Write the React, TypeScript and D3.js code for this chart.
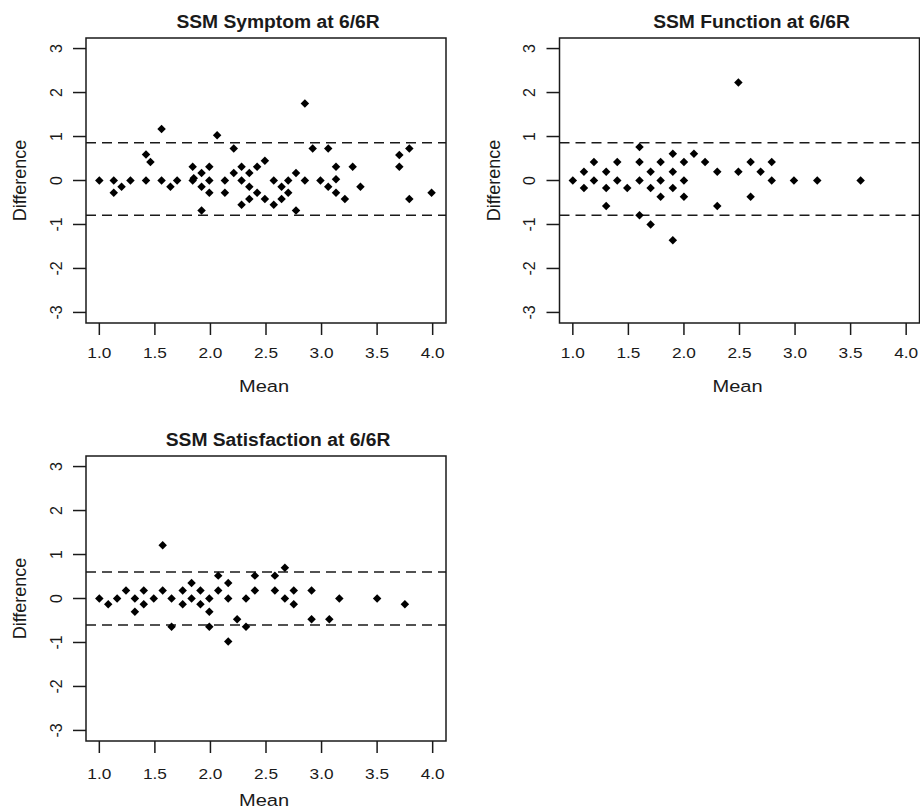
import React from "react";
import * as d3 from "d3";

// Bland-Altman style panels: mean vs difference
const symptomMean = [1.0, 1.13, 1.13, 1.2, 1.28, 1.42, 1.46, 1.42, 1.56, 1.56, 1.64, 1.7, 1.84, 1.84, 1.85, 1.92, 1.92, 1.92, 1.99, 1.99, 1.99, 2.06, 2.13, 2.13, 2.21, 2.21, 2.28, 2.28, 2.28, 2.35, 2.35, 2.35, 2.42, 2.42, 2.49, 2.49, 2.57, 2.57, 2.64, 2.64, 2.7, 2.7, 2.77, 2.77, 2.85, 2.85, 2.92, 2.99, 3.06, 3.06, 3.13, 3.13, 3.13, 3.21, 3.28, 3.35, 3.7, 3.7, 3.79, 3.79, 3.99];
const symptomDiff = [0, 0, -0.28, -0.14, 0, 0.59, 0.42, 0, 1.17, 0, -0.14, 0, 0.31, 0, 0.05, 0.17, -0.14, -0.68, 0.31, 0, -0.28, 1.03, 0, -0.28, 0.73, 0.17, 0.31, 0, -0.55, 0.17, -0.14, -0.42, 0.31, -0.28, 0.45, -0.42, 0, -0.55, -0.14, -0.42, 0, -0.28, 0.17, -0.68, 1.75, 0, 0.73, 0, 0.73, -0.14, 0.31, 0.03, -0.28, -0.42, 0.31, -0.14, 0.58, 0.31, 0.73, -0.42, -0.28];

const functionMean = [1.0, 1.1, 1.1, 1.19, 1.19, 1.3, 1.3, 1.3, 1.4, 1.4, 1.49, 1.6, 1.6, 1.6, 1.6, 1.7, 1.7, 1.7, 1.79, 1.79, 1.79, 1.9, 1.9, 1.9, 1.9, 2.0, 2.0, 2.0, 2.09, 2.19, 2.3, 2.3, 2.49, 2.49, 2.6, 2.6, 2.69, 2.79, 2.79, 2.99, 3.2, 3.59];
const functionDiff = [0, 0.2, -0.17, 0.42, 0, 0.2, -0.17, -0.58, 0.42, 0, -0.17, 0.76, 0.42, 0, -0.79, 0.2, -0.17, -1.0, 0.42, 0, -0.37, 0.61, 0.2, -0.17, -1.36, 0.42, 0, -0.37, 0.61, 0.42, 0.2, -0.58, 2.23, 0.2, 0.42, -0.37, 0.2, 0.42, 0, 0, 0, 0];

const satisfactionMean = [1.0, 1.08, 1.16, 1.24, 1.32, 1.32, 1.4, 1.4, 1.49, 1.57, 1.57, 1.65, 1.65, 1.75, 1.75, 1.83, 1.83, 1.91, 1.91, 1.99, 1.99, 1.99, 2.07, 2.07, 2.16, 2.16, 2.16, 2.24, 2.32, 2.32, 2.4, 2.4, 2.58, 2.58, 2.67, 2.67, 2.75, 2.75, 2.91, 2.91, 3.07, 3.16, 3.5, 3.75];
const satisfactionDiff = [0, -0.13, 0, 0.18, 0, -0.3, 0.18, -0.13, 0, 1.21, 0.18, 0, -0.64, 0.18, -0.13, 0.35, 0, 0.18, -0.13, 0, -0.3, -0.64, 0.52, 0.18, 0.35, 0, -0.98, -0.47, 0, -0.64, 0.52, 0.18, 0.52, 0.18, 0.7, 0, 0.18, -0.13, 0.18, -0.47, -0.47, 0, 0, -0.13];

const symptomLimits = [-0.79, 0.86];
const functionLimits = [-0.79, 0.86];
const satisfactionLimits = [-0.6, 0.6];

const xTicks = [1.0, 1.5, 2.0, 2.5, 3.0, 3.5, 4.0];
const yTicks = [-3, -2, -1, 0, 1, 2, 3];

const titles = ["SSM Symptom at 6/6R", "SSM Function at 6/6R", "SSM Satisfaction at 6/6R"];

const font = "'Liberation Sans', Arial, sans-serif";
const ink = "#1a1a1a";

const diamond = d3.symbol(d3.symbolSquare, 36)();

const Panel = ({ left, top, title, means, diffs, limits, tickGap, labelGap }) => {
  const width = 360;
  const height = 285;

  // R style 4% axis extension
  const xScale = d3.scaleLinear().domain([0.88, 4.12]).range([0, width]);
  const yScale = d3.scaleLinear().domain([-3.24, 3.24]).range([height, 0]);

  return (
    <g transform={`translate(${left},${top})`}>
      <text
        transform={`translate(${width / 2 + 12},${-10}) scale(1.07,1)`}
        textAnchor="middle"
        fontFamily={font}
        fontWeight="bold"
        fontSize={18}
        fill={ink}
      >
        {title}
      </text>

      {/* limits of agreement */}
      {limits.map((l) => (
        <line
          key={"lim" + l}
          x1={0}
          x2={width}
          y1={yScale(l)}
          y2={yScale(l)}
          stroke={ink}
          strokeWidth={1.5}
          strokeDasharray="10,6"
        />
      ))}

      {means.map((m, i) => (
        <path
          key={"pt" + i}
          d={diamond}
          transform={`translate(${xScale(m)},${yScale(diffs[i])}) rotate(45)`}
          fill="#000"
        />
      ))}

      <rect x={0} y={0} width={width} height={height} fill="none" stroke={ink} strokeWidth={1.5} />

      {/* x axis */}
      {xTicks.map((t) => (
        <g key={"x" + t}>
          <line x1={xScale(t)} x2={xScale(t)} y1={height} y2={height + 12} stroke={ink} strokeWidth={1.5} />
          <text
            transform={`translate(${xScale(t)},${height + tickGap}) scale(1.15,1)`}
            textAnchor="middle"
            fontFamily={font}
            fontSize={15}
            fill={ink}
          >
            {t.toFixed(1)}
          </text>
        </g>
      ))}
      <text
        transform={`translate(${width / 2 - 2},${height + labelGap}) scale(1.18,1)`}
        textAnchor="middle"
        fontFamily={font}
        fontSize={17}
        fill={ink}
      >
        Mean
      </text>

      {/* y axis */}
      {yTicks.map((t) => (
        <g key={"y" + t}>
          <line x1={-13} x2={0} y1={yScale(t)} y2={yScale(t)} stroke={ink} strokeWidth={1.5} />
          <text
            transform={`translate(${-30},${yScale(t)}) rotate(-90)`}
            textAnchor="middle"
            dominantBaseline="central"
            fontFamily={font}
            fontSize={16}
            fill={ink}
          >
            {t}
          </text>
        </g>
      ))}
      <text
        transform={`translate(${-66},${height / 2}) rotate(-90)`}
        textAnchor="middle"
        dominantBaseline="central"
        fontFamily={font}
        fontSize={18}
        fill={ink}
      >
        Difference
      </text>
    </g>
  );
};

export default function App() {
  return (
    <svg
      width={920}
      height={812}
      style={{ position: "absolute", left: 0, top: 0, background: "#fff" }}
    >
      <rect width={920} height={812} fill="#fff" />
      <Panel left={86} top={38} title={titles[0]} means={symptomMean} diffs={symptomDiff} limits={symptomLimits} tickGap={35} labelGap={69} />
      <Panel left={559.5} top={38} title={titles[1]} means={functionMean} diffs={functionDiff} limits={functionLimits} tickGap={35} labelGap={69} />
      <Panel left={86} top={456} title={titles[2]} means={satisfactionMean} diffs={satisfactionDiff} limits={satisfactionLimits} tickGap={38} labelGap={65} />
    </svg>
  );
}
